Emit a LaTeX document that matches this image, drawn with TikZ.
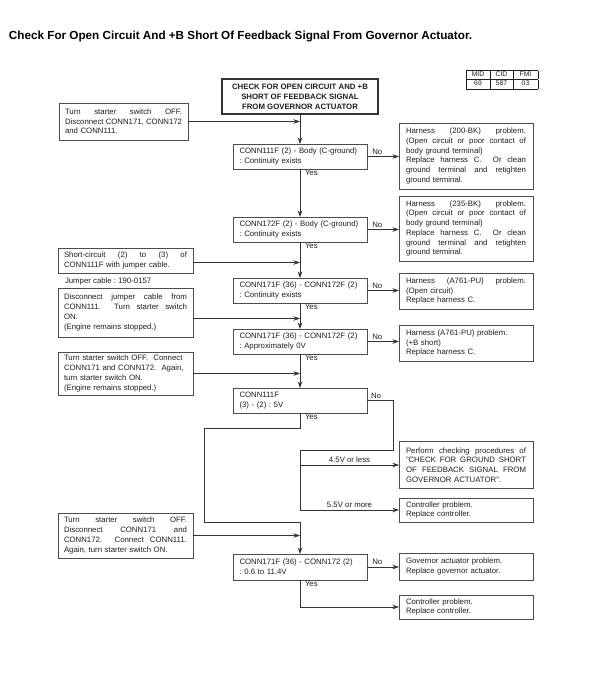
\documentclass[tikz,border=0pt]{standalone}
\usepackage{fontspec}
\setmainfont{Liberation Sans}
\usepackage{array}
\usetikzlibrary{arrows.meta,calc}
\newcommand{\J}[2][120pt]{\leavevmode\hbox to #1{\spaceskip=0.28em plus 1fil\relax #2}}
\begin{document}
\begin{tikzpicture}[x=1pt,y=-1pt,
  every node/.style={inner sep=0pt,outer sep=0pt,text=black!88},
  txt/.style={font=\frenchspacing\fontsize{7.8}{9.7}\selectfont},
  box/.style={txt,draw=black!70,line width=0.7pt,anchor=north west,align=left,inner xsep=6.5pt},
  mainbox/.style={box,text width=121pt,minimum height=25pt},
  leftbox/.style={box,inner xsep=6pt,text width=123pt},
  rightbox/.style={box,inner xsep=7pt,text width=120pt},
  startbox/.style={draw=black!80,line width=1.5pt,anchor=north west,align=center,
    font=\bfseries\fontsize{7.8}{10}\selectfont,minimum width=156pt,minimum height=35pt},
  conn/.style={draw=black!80,line width=0.7pt},
  arr/.style={conn,-{Stealth[length=6.5pt,width=4.5pt]}},
  lab/.style={txt},
  yeslab/.style={txt,anchor=north west,xshift=5pt,yshift=-1.5pt},
  nolab/.style={txt,anchor=south,yshift=2pt,pos=0.32}]
\useasboundingbox[fill=white] (0,0) rectangle (591,675);

\node[anchor=base west,font=\bfseries\fontsize{11.7}{13}\selectfont,text=black] (title) at (9,39)
  {Check For Open Circuit And +B Short Of Feedback Signal From Governor Actuator.};

\node (code) at (502,79.5) {\fontsize{6.8}{8}\selectfont\setlength\tabcolsep{3.3pt}\renewcommand\arraystretch{1.1}%
  \begin{tabular}{|>{\centering\arraybackslash}p{16.5pt}|>{\centering\arraybackslash}p{16.5pt}|>{\centering\arraybackslash}p{17.5pt}|}\hline
  MID & CID & FMI\\\hline 69 & 587 & 03\\\hline\end{tabular}};

\node[startbox] (start) at (222,79) {CHECK FOR OPEN CIRCUIT AND +B\\SHORT OF FEEDBACK SIGNAL\\FROM GOVERNOR ACTUATOR};

% left instruction boxes
\node[leftbox,text width=117pt,minimum height=37pt] (a) at (59,103)
  {\J[117pt]{Turn starter switch OFF.}\\\J[117pt]{Disconnect CONN171, CONN172}\\and CONN111.};
\node[leftbox,minimum height=25pt] (d) at (58,248)
  {\J[123pt]{Short-circuit (2) to (3) of}\\CONN111F with jumper cable.};
\node[lab,anchor=west] (jump) at (65,281) {Jumper cable : 190-0157};
\node[leftbox,minimum height=49pt] (f) at (58,288)
  {\J[123pt]{Disconnect jumper cable from}\\\J[123pt]{CONN111. \ Turn starter switch}\\ON.\\(Engine remains stopped.)};
\node[leftbox,minimum height=43pt] (i) at (58,352)
  {Turn starter switch OFF. \ Connect\\CONN171 and CONN172. \ Again,\\turn starter switch ON.\\(Engine remains stopped.)};
\node[leftbox,minimum height=45pt] (l) at (58,513)
  {\J[123pt]{Turn starter switch OFF.}\\\J[123pt]{Disconnect CONN171 and}\\\J[123pt]{CONN172. \ Connect CONN111.}\\Again, turn starter switch ON.};

% main check boxes
\node[mainbox] (b) at (233,144) {CONN111F (2) - Body (C-ground)\\: Continuity exists};
\node[mainbox] (c) at (233,217) {CONN172F (2) - Body (C-ground)\\: Continuity exists};
\node[mainbox] (e) at (233,278) {CONN171F (36) - CONN172F (2)\\: Continuity exists};
\node[mainbox] (g) at (233,329) {CONN171F (36) - CONN172F (2)\\: Approximately 0V};
\node[mainbox] (j) at (233,388) {CONN111F\\(3) - (2) : 5V};
\node[mainbox,minimum height=26pt] (k) at (233,554) {CONN171F (36) - CONN172 (2)\\: 0.6 to 11.4V};

% result boxes
\node[rightbox,minimum height=66pt] (h1) at (399,123)
  {\J{Harness (200-BK) problem.}\\\J{(Open circuit or poor contact of}\\body ground terminal)\\\J{Replace harness C. \ Or clean}\\\J{ground terminal and retighten}\\ground terminal.};
\node[rightbox,minimum height=65pt] (h2) at (399,196)
  {\J{Harness (235-BK) problem.}\\\J{(Open circuit or poor contact of}\\body ground terminal)\\\J{Replace harness C. \ Or clean}\\\J{ground terminal and retighten}\\ground terminal.};
\node[rightbox,minimum height=36pt] (h3) at (399,273)
  {\J{Harness (A761-PU) problem.}\\(Open circuit)\\Replace harness C.};
\node[rightbox,minimum height=36pt] (h4) at (399,325)
  {Harness (A761-PU) problem.\\(+B short)\\Replace harness C.};
\node[rightbox,minimum height=47pt] (p) at (399,441.5)
  {\J{Perform checking procedures of}\\\J{"CHECK FOR GROUND SHORT}\\\J{OF FEEDBACK SIGNAL FROM}\\GOVERNOR ACTUATOR".};
\node[rightbox,minimum height=24pt] (q) at (399,498) {Controller problem.\\Replace controller.};
\node[rightbox,minimum height=27pt] (m) at (399,553) {Governor actuator problem.\\Replace governor actuator.};
\node[rightbox,minimum height=24pt] (n) at (399,595) {Controller problem.\\Replace controller.};

% main flow
\draw[arr] (start.south) -- (b.north);
\draw[arr] (a.east) -- (a.east -| start.south);
\draw[arr] (b.south) -- (c.north);
\node[yeslab] (y1) at (b.south) {Yes};
\draw[arr] (b.east) -- node[nolab] {No} (b.east -| h1.west);
\draw[arr] (c.south) -- (e.north);
\node[yeslab] (y2) at (c.south) {Yes};
\draw[arr] (c.east) -- node[nolab] {No} (c.east -| h2.west);
\draw[arr] ([yshift=-2pt]d.east) -- ([yshift=-2pt]d.east -| c.south);
\draw[arr] (e.south) -- (g.north);
\node[yeslab] (y3) at (e.south) {Yes};
\draw[arr] (e.east) -- node[nolab] {No} (e.east -| h3.west);
\draw[arr] ([yshift=-6pt]f.east) -- ([yshift=-6pt]f.east -| e.south);
\draw[arr] (g.south) -- (j.north);
\node[yeslab] (y4) at (g.south) {Yes};
\draw[arr] (g.east) -- node[nolab] {No} (g.east -| h4.west);
\draw[arr] (i.east) -- (i.east -| g.south);

% CONN111F 5V branches
\coordinate (nturn) at (393,450);
\coordinate (nsplit) at (300,450);
\draw[conn] (j.east) -| (nturn) -- (nsplit);
\node[txt,anchor=south] (nolj) at (376,399) {No};
\draw[arr] (nsplit) |- node[pos=0.75,txt,anchor=south,yshift=2pt] {5.5V or more} (q.west);
\draw[arr] (nsplit |- p.west) -- node[txt,anchor=south,yshift=2pt,pos=0.5] {4.5V or less} (p.west);

\coordinate (ya) at (300,428);
\coordinate (yb) at (204,428);
\coordinate (yc) at (204,522);
\draw[arr] (j.south) -- (ya) -- (yb) -- (yc) -- (yc -| k.north) -- (k.north);
\node[yeslab] (y5) at (j.south) {Yes};
\draw[arr] (l.east) -- (l.east -| k.north);

\draw[arr] (k.east) -- node[nolab] {No} (k.east -| m.west);
\draw[arr] (k.south) |- (n.west);
\node[yeslab] (y6) at (k.south) {Yes};
\end{tikzpicture}
\end{document}
